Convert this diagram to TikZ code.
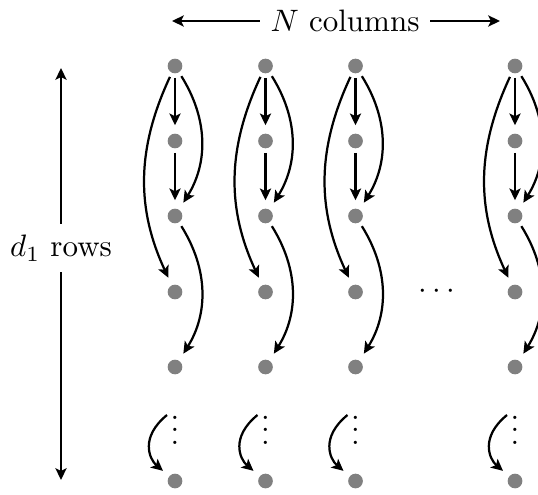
\documentclass[tikz,border=0pt]{standalone}
\usetikzlibrary{arrows.meta}
\begin{document}
\begin{tikzpicture}[x=0.3226pt,y=-0.3226pt,
  dot/.style={circle,fill=gray,inner sep=0pt,minimum size=4.74pt,outer sep=1.5pt},
  tip/.style={-{Stealth[length=3.8pt,width=3.6pt,inset=0.9pt]},line width=0.72pt},
  arr/.style={tip,shorten >=1.2pt}]
\useasboundingbox (0,0) rectangle (538,495);
\clip (0,0) rectangle (538,495);

% one column of the array per pass
\foreach \c/\x in {1/175,2/265.5,3/355.5,4/515}{
  \foreach \r/\y in {0/66,1/141,2/216,3/292,4/367,6/481}
    \node[dot] (n\c-\r) at (\x,\y) {};
  \node[anchor=base,inner sep=0pt] (v\c) at (\x,444) {$\vdots$};
  \coordinate (s\c) at (\x-8,415);
  \draw[arr] (n\c-0) -- (n\c-1);
  \draw[arr] (n\c-1) -- (n\c-2);
  \draw[arr] (n\c-0) to[bend left=32] (n\c-2);
  \draw[arr] (n\c-0) to[bend right=25] (n\c-3);
  \draw[arr] (n\c-2) to[bend left=32] (n\c-4);
  \draw[arr] (s\c) .. controls +(-27,22) and +(-26,-22) .. (n\c-6);
}

% horizontal ellipsis between the columns
\node (hd) at (437,292) {$\cdots$};

% column count
\node (ncol) at (345,21) {$N$ columns};
\coordinate (cl) at (172,21);
\coordinate (cr) at (500,21);
\draw[tip] (ncol) -- (cl);
\draw[tip] (ncol) -- (cr);

% row count
\node (drow) at (61,248) {$d_1$ rows};
\coordinate (rt) at (61,68);
\coordinate (rb) at (61,480);
\draw[tip] (drow) -- (rt);
\draw[tip] (drow) -- (rb);
\end{tikzpicture}
\end{document}
